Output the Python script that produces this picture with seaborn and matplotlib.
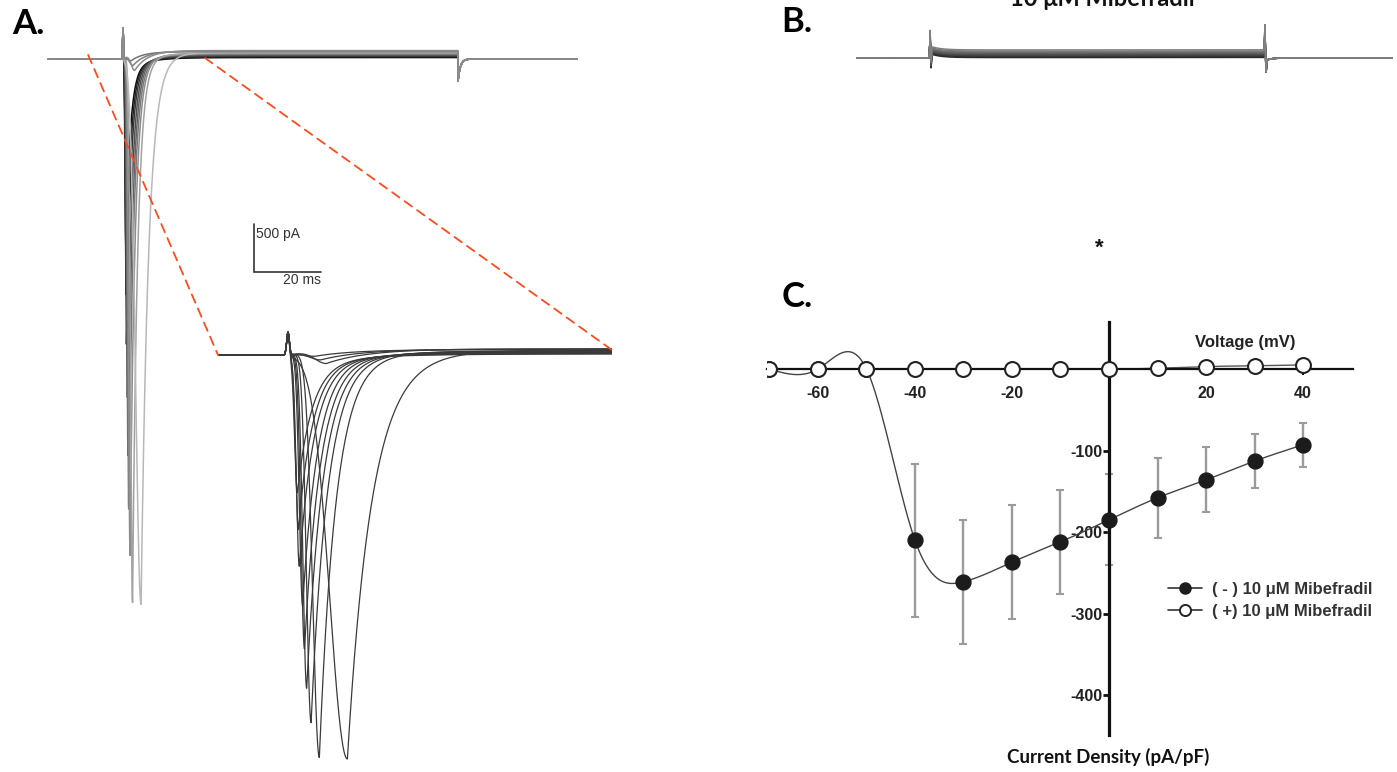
import numpy as np
import pandas as pd
import seaborn as sns
import matplotlib
matplotlib.use("Agg")
from matplotlib import pyplot as plt
from matplotlib.lines import Line2D
from matplotlib.patches import ConnectionPatch


W, H = 1397, 772

# ---- panel A: Na+ current family (inset values)
PEAK_T_MS = [0.85, 0.94, 1.03, 1.33, 1.5, 1.7, 2.1, 2.85, 5.4, 2.5, 3.0, 3.5]
PEAK_PA = [-1940, -2460, -2980, -3540, -4150, -4710, -5200, -5700, -5740, -60, -120, -180]
RISE_MS = [0.25, 0.25, 0.27, 0.3, 0.32, 0.35, 0.42, 0.6, 1.6, 1.0, 1.0, 1.0]
DECAY_MS = [1.35, 1.35, 1.4, 1.4, 1.45, 1.5, 1.5, 1.5, 2.2, 4.0, 4.0, 4.0]
SLOW_PA = [-120, -120, -120, -120, -120, -120, -120, -120, -120, 0, 0, 0]
STEADY_PA = [15, 22, 30, 38, 45, 52, 58, 64, 70, 76, 82, 88]
SPIKE_PA = 320
TAIL_PA = -230
STEP_MS = 100

# ---- panel B: same protocol with 10 uM mibefradil
B_STEADY_PA = [5, 14, 22, 30, 38, 46, 54, 62, 72, 84]
B_ON_SPIKE_PA = [170, -150]
B_OFF_SPIKE_PA = [270, -130]

# ---- panel C: I-V relationship
VOLTAGE_MV = [-70, -60, -50, -40, -30, -20, -10, 0, 10, 20, 30, 40]
CTRL_MEAN = [0, 0, 0, -210, -261, -237, -212, -185, -158, -136, -113, -93]
CTRL_SEM = [0, 0, 0, 94, 76, 70, 64, 56, 49, 40, 33, 27]
MIBE_MEAN = [0, 0, 0, 0, 0, 0, 0, 0, 1, 3, 4, 5]
MIBE_SEM = [0, 0, 0, 0, 0, 0, 0, 0, 2, 5, 3, 6]


def px_axes(fig, left, top, right, bottom):
    return fig.add_axes([left / W, 1 - bottom / H, (right - left) / W, (bottom - top) / H])


def gauss(t, mu, sd):
    return np.exp(-0.5 * ((t - mu) / sd) ** 2)


def na_trace(t, k):
    tp, amp = PEAK_T_MS[k], PEAK_PA[k]
    dt = t - tp
    fast = amp - SLOW_PA[k]
    after = fast * np.exp(-np.clip(dt, 0, None) / DECAY_MS[k]) + SLOW_PA[k] * np.exp(
        -np.clip(dt, 0, None) / 6.0
    )
    inward = np.where(dt < 0, amp * gauss(t, tp, RISE_MS[k]), after)
    inward = np.where(t < 0, 0, inward)
    in_step = (t > 0) & (t < STEP_MS)
    steady = STEADY_PA[k] * (1 - np.exp(-np.clip(t, 0, None) / 3.0)) * in_step
    tail = np.where(t >= STEP_MS, TAIL_PA * np.exp(-(t - STEP_MS) / 0.7), 0)
    return SPIKE_PA * gauss(t, 0, 0.12) + inward + steady + tail


def mibe_trace(t, k):
    in_step = (t > 0) & (t < STEP_MS)
    cur = B_STEADY_PA[k] * in_step + 40 * np.exp(-np.clip(t, 0, None) / 3.0) * in_step
    cur = cur + B_ON_SPIKE_PA[0] * gauss(t, 0, 0.12) + B_ON_SPIKE_PA[1] * gauss(t, 0.3, 0.12)
    cur = cur + B_OFF_SPIKE_PA[0] * gauss(t, STEP_MS, 0.12)
    cur = cur + B_OFF_SPIKE_PA[1] * gauss(t, STEP_MS + 0.3, 0.12)
    cur = cur + np.where(t > STEP_MS, -30 * np.exp(-(t - STEP_MS) / 1.5), 0)
    return cur


def natural_spline(x, y, xs):
    x = np.asarray(x, float)
    y = np.asarray(y, float)
    n = len(x)
    h = np.diff(x)
    A = np.zeros((n, n))
    rhs = np.zeros(n)
    A[0, 0] = A[-1, -1] = 1
    for i in range(1, n - 1):
        A[i, i - 1] = h[i - 1]
        A[i, i] = 2 * (h[i - 1] + h[i])
        A[i, i + 1] = h[i]
        rhs[i] = 3 * ((y[i + 1] - y[i]) / h[i] - (y[i] - y[i - 1]) / h[i - 1])
    c = np.linalg.solve(A, rhs)
    b = (y[1:] - y[:-1]) / h - h * (2 * c[:-1] + c[1:]) / 3
    d = (c[1:] - c[:-1]) / (3 * h)
    idx = np.clip(np.searchsorted(x, xs) - 1, 0, n - 2)
    dx = xs - x[idx]
    return y[idx] + b[idx] * dx + c[idx] * dx ** 2 + d[idx] * dx ** 3


def bare(ax):
    ax.set_axis_off()


sns.set_theme(style="white")
plt.rcParams["font.family"] = ["Liberation Sans", "DejaVu Sans"]

fig = plt.figure(figsize=(W / 100, H / 100), dpi=100)

# ---------------- panel A, full sweep
t = np.arange(-23, 137, 0.01)
frames = []
for k in range(len(PEAK_T_MS)):
    frames.append(pd.DataFrame({"t": t, "i": na_trace(t, k), "trace": k}))
traces = pd.concat(frames, ignore_index=True)

n_tr = len(PEAK_T_MS)
grays = [str(g) for g in np.linspace(0.05, 0.72, 9)] + ["0.45", "0.5", "0.55"]

ax_a = px_axes(fig, 47, 20, 578, 630)
sns.lineplot(data=traces, x="t", y="i", hue="trace", palette=grays, estimator=None,
             sort=False, legend=False, linewidth=1.1, ax=ax_a)
ax_a.set_xlim((47 - 123) / 3.35, (578 - 123) / 3.35)
ax_a.set_ylim(-(630 - 59) / 0.096, (59 - 20) / 0.096)
bare(ax_a)

# scale bar: 500 pA / 20 ms
sb_t, sb_i = (254 - 123) / 3.35, -(272 - 59) / 0.096
ax_a.plot([sb_t, sb_t, sb_t + 20], [sb_i + 500, sb_i, sb_i], color="#333333", lw=1.2,
          solid_joinstyle="miter")
ax_a.text(sb_t + 0.6, sb_i + 400, "500 pA", fontsize=10, color="#333333", va="center")
ax_a.text(sb_t + 20, sb_i - 85, "20 ms", fontsize=10, color="#333333", va="center", ha="right")

# ---------------- panel A, magnified onset
t_in = np.arange(-7, 30, 0.005)
frames = []
for k in range(n_tr):
    frames.append(pd.DataFrame({"t": t_in, "i": na_trace(t_in, k), "trace": k}))
inset = pd.concat(frames, ignore_index=True)
ax_in = px_axes(fig, 218, 320, 612, 772)
sns.lineplot(data=inset, x="t", y="i", hue="trace", palette=["#3a3a3a"] * n_tr,
             estimator=None, sort=False, legend=False, linewidth=0.9, ax=ax_in)
ax_in.set_xlim((218 - 288) / 11, (612 - 288) / 11)
ax_in.set_ylim(-(772 - 355) / 0.0711, (355 - 320) / 0.0711)
bare(ax_in)

for pa, pb in [((-10.4, 42), (ax_in.get_xlim()[0], 0)), ((24.5, 10), (ax_in.get_xlim()[1], 70))]:
    con = ConnectionPatch(xyA=pa, coordsA=ax_a.transData, xyB=pb, coordsB=ax_in.transData,
                          color="#ff4a1c", lw=1.3, linestyle=(0, (5, 3.5)))
    fig.add_artist(con)

# ---------------- panel B
t_b = np.arange(-23, 139, 0.01)
frames = []
for k in range(len(B_STEADY_PA)):
    frames.append(pd.DataFrame({"t": t_b, "i": mibe_trace(t_b, k), "trace": k}))
mibe = pd.concat(frames, ignore_index=True)
ax_b = px_axes(fig, 856, 20, 1393, 95)
sns.lineplot(data=mibe, x="t", y="i", hue="trace",
             palette=[str(g) for g in np.linspace(0.15, 0.5, len(B_STEADY_PA))],
             estimator=None, sort=False, legend=False, linewidth=1.1, ax=ax_b)
ax_b.set_xlim((856 - 930) / 3.35, (1393 - 930) / 3.35)
ax_b.set_ylim(-(95 - 58) / 0.096, (58 - 20) / 0.096)
bare(ax_b)

# ---------------- panel C
ax_c = px_axes(fig, 767, 322, 1353, 735)
vs = np.linspace(-70, 40, 500)
ax_c.plot(vs, natural_spline(VOLTAGE_MV, MIBE_MEAN, vs), color="#555555", lw=1.0, zorder=2)
ax_c.plot(vs, natural_spline(VOLTAGE_MV, CTRL_MEAN, vs), color="#444444", lw=1.0, zorder=2)
ax_c.errorbar(VOLTAGE_MV, CTRL_MEAN, yerr=CTRL_SEM, fmt="none", ecolor="#9b9b9b",
              elinewidth=1.7, capsize=3.0, capthick=1.5, zorder=1)
ax_c.errorbar(VOLTAGE_MV, MIBE_MEAN, yerr=MIBE_SEM, fmt="none", ecolor="#777777",
              elinewidth=1.2, capsize=2.0, capthick=1.2, zorder=1)
iv = pd.DataFrame({"v": VOLTAGE_MV, "ctrl": CTRL_MEAN, "mibe": MIBE_MEAN})
sns.scatterplot(data=iv, x="v", y="ctrl", s=115, color="#1c1c1c", edgecolor="#1c1c1c",
                linewidth=1, zorder=4, ax=ax_c)
sns.scatterplot(data=iv, x="v", y="mibe", s=115, color="white", edgecolor="#222222",
                linewidth=1.5, zorder=5, ax=ax_c)
ax_c.set_xlim(-70.5, 50.3)
ax_c.set_ylim(-449, 57.7)
ax_c.set_xlabel("")
ax_c.set_ylabel("")
ax_c.patch.set_alpha(0)
for side in ["top", "right"]:
    ax_c.spines[side].set_visible(False)
ax_c.spines["left"].set_position(("data", 0))
ax_c.spines["bottom"].set_position(("data", 0))
ax_c.spines["left"].set_linewidth(2.3)
ax_c.spines["bottom"].set_linewidth(1.6)
ax_c.spines["left"].set_color("#111111")
ax_c.spines["bottom"].set_color("#111111")
ax_c.set_xticks([-60, -40, -20, 20, 40])
ax_c.set_yticks([-100, -200, -300, -400])
tick_font = dict(family=["Liberation Sans", "DejaVu Sans"], weight="bold", size=11.5)
ax_c.set_xticklabels(["-60", "-40", "-20", "20", "40"], fontdict=tick_font, color="#222222")
ax_c.set_yticklabels(["-100", "-200", "-300", "-400"], fontdict=tick_font, color="#222222")
ax_c.tick_params(axis="x", direction="out", length=4, width=1.5, pad=8, color="#111111",
                 bottom=True)
ax_c.tick_params(axis="y", direction="out", length=4, width=2, pad=1, color="#111111",
                 left=True)

handles = [
    Line2D([0], [0], color="#333333", lw=1.2, marker="o", ms=8, mfc="#1c1c1c", mec="#1c1c1c"),
    Line2D([0], [0], color="#333333", lw=1.2, marker="o", ms=8, mfc="white", mec="#222222",
           mew=1.4),
]
fig.legend(handles, ["( - ) 10 \u03bcM Mibefradil", "( +) 10 \u03bcM Mibefradil"],
           loc="upper left", bbox_to_anchor=(1160 / W, 1 - 574 / H), frameon=False,
           handlelength=2.0, handletextpad=0.6, labelspacing=0.4, borderpad=0,
           prop=dict(family=["Liberation Sans", "DejaVu Sans"], weight="bold", size=12),
           labelcolor="#333333")

label_font = ["Lato", "DejaVu Sans"]
fig.text(1245 / W, 1 - 342 / H, "Voltage (mV)", ha="center", va="center", fontsize=12,
         weight="bold", color="#222222")
fig.text(1108 / W, 1 - 757 / H, "Current Density (pA/pF)", ha="center", va="center",
         fontsize=13.5, weight="bold", color="#111111", family=label_font)
fig.text(1102 / W, 1 - 6 / H, "10 \u03bcM Mibefradil", ha="center", va="baseline", fontsize=17,
         weight="bold", color="#111111", family=label_font)
fig.text(1099 / W, 1 - 248 / H, "*", ha="center", va="center", fontsize=16, weight="bold",
         color="#111111")
for x, y, s in [(28, 24, "A."), (797, 22, "B."), (797, 297, "C.")]:
    fig.text(x / W, 1 - y / H, s, ha="center", va="center", fontsize=25, weight="bold",
             color="#000000", family=label_font)

fig.savefig("out.png", dpi=100)
